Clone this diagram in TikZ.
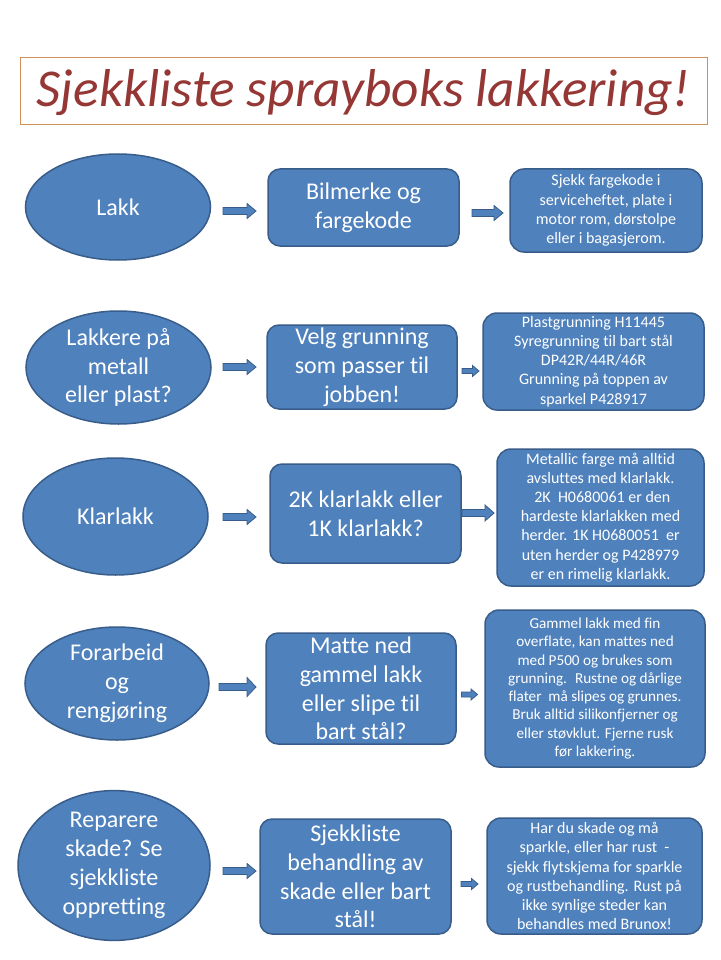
\documentclass[tikz,border=0pt]{standalone}
\usepackage{fontspec}
\setmainfont{Carlito}[Ligatures={NoCommon,NoContextual}]
\usetikzlibrary{shapes.geometric}
\definecolor{boxc}{HTML}{4F81BD}
\definecolor{bordc}{HTML}{385D8A}
\definecolor{titlec}{HTML}{953735}
\definecolor{titleb}{HTML}{D0915A}
\tikzset{
  oval/.style={ellipse, draw=bordc, fill=boxc, line width=1.5pt, text=white, inner sep=0pt,
    font=\fontsize{24}{28.8}\selectfont, align=center},
  midbox/.style={rectangle, rounded corners=12pt, draw=bordc, fill=boxc, line width=1.5pt, text=white,
    inner sep=0pt, font=\fontsize{24}{28.8}\selectfont, align=center},
  infobox/.style={rectangle, rounded corners=14pt, draw=bordc, fill=boxc, line width=1.5pt, text=white,
    inner sep=0pt, font=\fontsize{16}{19.2}\selectfont, align=center},
  barrow/.style={draw=bordc, fill=boxc, line width=0.8pt, line join=miter},
  titlebox/.style={rectangle, draw=titleb, line width=0.8pt, inner sep=0pt},
  titletext/.style={text=titlec, inner sep=0pt, font=\fontsize{53.3}{60}\selectfont\itshape}
}
% name, x, y, length, shaft half, head half, head length
\newcommand\blockarrow[7]{%
  \coordinate (#1) at (#2,#3);
  \draw[barrow] ([shift={({-(#4)/2},{-(#5)})}]#1) -- ([shift={({(#4)/2-(#7)},{-(#5)})}]#1)
    -- ([shift={({(#4)/2-(#7)},{-(#6)})}]#1) -- ([shift={({(#4)/2},0)}]#1)
    -- ([shift={({(#4)/2-(#7)},{(#6)})}]#1) -- ([shift={({(#4)/2-(#7)},{(#5)})}]#1)
    -- ([shift={({-(#4)/2},{(#5)})}]#1) -- cycle;}
\begin{document}
\begin{tikzpicture}[x=1pt,y=-1pt]
\fill[white] (0,0) rectangle (720,960);
\useasboundingbox (0,0) rectangle (720,960);

\node[titlebox, minimum width=687pt, minimum height=67pt] (title) at (363.5,90.5) {};
\node[titletext] (titlet) at (363.5,93) {Sjekkliste sprayboks lakkering!};

% Row 1
\node[oval, minimum width=185pt, minimum height=106pt] (e1) at (118,207) {Lakk};
\blockarrow{a11}{239.5}{211}{33}{3.5}{7.5}{9}
\node[midbox, minimum width=191pt, minimum height=77pt] (m1) at (363.5,207.5) {Bilmerke og\\fargekode};
\blockarrow{a12}{487.5}{213}{31}{3.5}{7.5}{9}
\node[infobox, minimum width=192pt, minimum height=83pt] (r1) at (606,210.5)
  {Sjekk fargekode i\\serviceheftet, plate i\\motor rom, dørstolpe\\eller i bagasjerom.};

% Row 2
\node[oval, minimum width=185pt, minimum height=113pt] (e2) at (118.5,367.5) {Lakkere på\\metall\\eller plast?};
\blockarrow{a21}{239.5}{367}{33}{3.5}{7.5}{9}
\node[midbox, minimum width=190pt, minimum height=84pt] (m2) at (362,367) {Velg grunning\\som passer til\\jobben!};
\blockarrow{a22}{470.5}{371}{17}{2.5}{5.5}{6.5}
\node[infobox, minimum width=221pt, minimum height=97pt] (r2) at (593.5,361.5)
  {Plastgrunning H11445\\Syregrunning til bart stål\\DP42R/44R/46R\\Grunning på toppen av\\sparkel P428917};

% Row 3
\node[oval, minimum width=185pt, minimum height=117pt] (e3) at (115.5,516.5) {Klarlakk};
\blockarrow{a31}{239.5}{517}{33}{3.5}{7.5}{9}
\node[midbox, minimum width=191pt, minimum height=99pt] (m3) at (365.5,513.5) {2K klarlakk eller\\1K klarlakk?};
\blockarrow{a32}{478}{513}{32}{3.5}{8}{9}
\node[infobox, minimum width=207pt, minimum height=137pt] (r3) at (600.5,517.5)
  {Metallic farge må alltid\\avsluttes med klarlakk.\\\ 2K~ H0680061 er den\\hardeste klarlakken med\\herder. 1K H0680051~ er\\uten herder og P428979\\er en rimelig klarlakk.};

% Row 4
\node[oval, minimum width=184pt, minimum height=113pt] (e4) at (117,683.5) {Forarbeid\\og\\rengjøring};
\blockarrow{a41}{237.5}{687}{37}{3.5}{9.5}{9}
\node[midbox, minimum width=190pt, minimum height=111pt] (m4) at (361,688.5) {Matte ned\\gammel lakk\\eller slipe til\\bart stål?};
\blockarrow{a42}{469.5}{694.5}{16}{2.5}{5.5}{6.5}
\node[infobox, minimum width=220pt, minimum height=157pt, font=\fontsize{15.2}{18.3}\selectfont] (r4) at (595,688.5)
  {Gammel lakk med fin\\overflate, kan mattes ned\\med P500 og brukes som\\grunning.~ Rustne og dårlige\\flater~ må slipes og grunnes.\\Bruk alltid silikonfjerner og\\eller støvklut. Fjerne rusk\\før lakkering.};

% Row 5
\node[oval, minimum width=192pt, minimum height=137pt] (e5) at (114,865.5) {Reparere\\skade? Se\\sjekkliste\\oppretting};
\blockarrow{a51}{239.5}{871}{33}{3.5}{7.5}{9}
\node[midbox, minimum width=191pt, minimum height=115pt] (m5) at (355.5,876.5) {Sjekkliste\\behandling av\\skade eller bart\\stål!};
\blockarrow{a52}{469.5}{884}{17}{2.5}{5.5}{6.5}
\node[infobox, minimum width=215pt, minimum height=116pt] (r5) at (594.5,876)
  {Har du skade og må\\sparkle, eller har rust~ -\\sjekk flytskjema for sparkle\\og rustbehandling. Rust på\\ikke synlige steder kan\\behandles med Brunox!};
\end{tikzpicture}
\end{document}
